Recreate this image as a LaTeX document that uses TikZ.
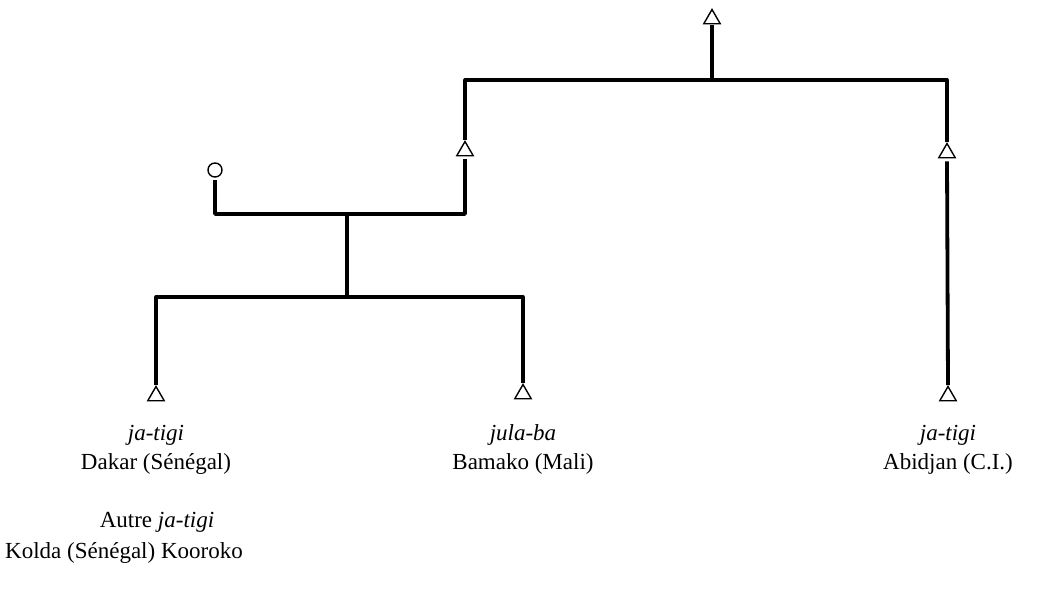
\documentclass[tikz,border=0pt]{standalone}
\usepackage{fontspec}
\setmainfont{Liberation Serif}
\usetikzlibrary{shapes.geometric}

\begin{document}
\begin{tikzpicture}[x=1pt,y=-1pt,
  male/.style={draw, regular polygon, regular polygon sides=3, minimum size=19pt, inner sep=0pt, line width=1.4pt},
  female/.style={draw, circle, minimum size=14pt, inner sep=0pt, line width=1.4pt},
  kin/.style={line width=3.8pt},
  lab/.style={font=\fontsize{23}{26}\selectfont, inner sep=0pt}]
  \useasboundingbox (0,0) rectangle (1045,595);
  % individuals
  \node[male] (top) at (712,19) {};
  \node[male] (fatherL) at (465,151) {};
  \node[male] (fatherR) at (947,153) {};
  \node[female] (mother) at (215,170) {};
  \node[male] (dakar) at (156,396) {};
  \node[male] (bamako) at (523,394) {};
  \node[male] (abidjan) at (948,396) {};
  % junctions
  \coordinate (topbar) at (712,80);
  \coordinate (barL) at (465,80);
  \coordinate (barR) at (947,80);
  \coordinate (marL) at (215,214);
  \coordinate (marR) at (465,214);
  \coordinate (marC) at (347,214);
  \coordinate (sibC) at (347,297);
  \coordinate (sibL) at (156,297);
  \coordinate (sibR) at (523,297);
  % lines
  \draw[kin] ([yshift=-1pt]top.south) -- (topbar);
  \draw[kin, line cap=round] (barL) -- (barR);
  \draw[kin] (barL) -- (fatherL.north);
  \draw[kin, line join=round] ([yshift=-3pt]fatherL.south) -- (marR) -- (marL) -- ([yshift=-2pt]mother.south);
  \draw[kin] (barR) -- (fatherR.north);
  \draw[kin] ([yshift=-3pt]fatherR.south) -- (abidjan.north);
  \draw[kin] (marC) -- (sibC);
  \draw[kin, line cap=round] (sibL) -- (sibR);
  \draw[kin] (sibL) -- (dakar.north);
  \draw[kin] (sibR) -- (bamako.north);
  % labels
  \node[lab] (dakarT) at (156,435) {\itshape ja-tigi};
  \node[lab] (dakarP) at (156,464) {Dakar (Sénégal)};
  \node[lab] (bamakoT) at (523,435) {\itshape jula-ba};
  \node[lab] (bamakoP) at (523,464) {Bamako (Mali)};
  \node[lab] (abidjanT) at (948,435) {\itshape ja-tigi};
  \node[lab] (abidjanP) at (948,464) {Abidjan (C.I.)};
  \node[lab] (autre) at (157,522) {Autre \textit{ja-tigi}};
  \node[lab] (kolda) at (124,553) {Kolda (Sénégal) Kooroko};
\end{tikzpicture}
\end{document}
